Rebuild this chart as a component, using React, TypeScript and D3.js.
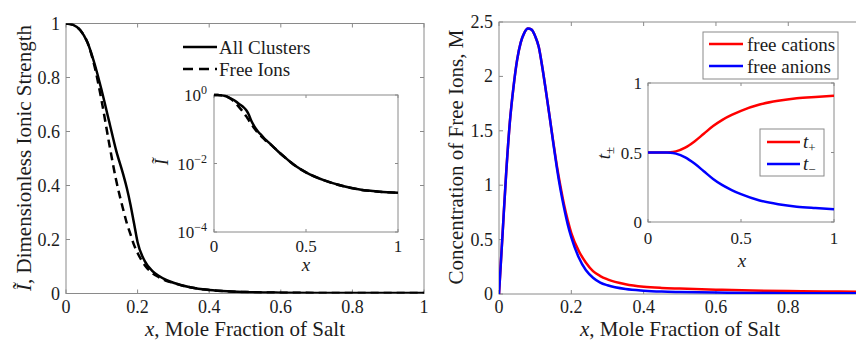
import React, { useEffect, useRef } from "react";
import * as d3 from "d3";

// left panel: dimensionless ionic strength vs mole fraction
const xIonic = [0, 0.02, 0.04, 0.06, 0.08, 0.1, 0.12, 0.14, 0.16, 0.17, 0.18, 0.19, 0.2, 0.22, 0.24, 0.26, 0.28, 0.3, 0.35, 0.4, 0.45, 0.5, 0.6, 0.7, 0.8, 0.9, 1];
const allClusters = [1, 0.995, 0.975, 0.93, 0.85, 0.75, 0.64, 0.53, 0.44, 0.39, 0.33, 0.26, 0.19, 0.12, 0.085, 0.065, 0.05, 0.04, 0.022, 0.013, 0.008, 0.0055, 0.0032, 0.0022, 0.0017, 0.0015, 0.0014];
const freeIons = [1, 0.995, 0.975, 0.93, 0.84, 0.71, 0.56, 0.42, 0.31, 0.26, 0.22, 0.18, 0.15, 0.105, 0.077, 0.06, 0.047, 0.039, 0.022, 0.013, 0.008, 0.0055, 0.0032, 0.0022, 0.0017, 0.0015, 0.0014];

// right panel: free ion concentration (M)
const xConc = [0, 0.01, 0.02, 0.03, 0.04, 0.05, 0.06, 0.07, 0.08, 0.09, 0.1, 0.11, 0.12, 0.13, 0.14, 0.15, 0.16, 0.17, 0.18, 0.19, 0.2, 0.22, 0.24, 0.26, 0.28, 0.3, 0.35, 0.4, 0.45, 0.5, 0.6, 0.7, 0.8, 0.9, 1];
const freeCations = [0, 0.56, 1.12, 1.58, 1.9, 2.15, 2.31, 2.4, 2.44, 2.43, 2.37, 2.27, 2.08, 1.86, 1.63, 1.4, 1.18, 0.99, 0.82, 0.68, 0.56, 0.4, 0.29, 0.21, 0.165, 0.135, 0.09, 0.067, 0.056, 0.05, 0.04, 0.032, 0.027, 0.023, 0.021];
const freeAnions = [0, 0.56, 1.12, 1.58, 1.9, 2.15, 2.31, 2.4, 2.44, 2.43, 2.37, 2.27, 2.08, 1.86, 1.63, 1.39, 1.16, 0.96, 0.79, 0.64, 0.52, 0.34, 0.22, 0.15, 0.105, 0.08, 0.045, 0.03, 0.022, 0.018, 0.013, 0.01, 0.008, 0.007, 0.006];

// right inset: transference numbers
const xTrans = [0, 0.05, 0.1, 0.12, 0.15, 0.2, 0.25, 0.3, 0.35, 0.4, 0.45, 0.5, 0.6, 0.7, 0.8, 0.9, 1];
const tPlus = [0.5, 0.5, 0.5, 0.501, 0.508, 0.535, 0.58, 0.635, 0.69, 0.735, 0.77, 0.8, 0.845, 0.872, 0.89, 0.9, 0.908];
const tMinus = [0.5, 0.5, 0.5, 0.499, 0.492, 0.465, 0.42, 0.365, 0.31, 0.265, 0.23, 0.2, 0.155, 0.128, 0.11, 0.1, 0.092];

const mainXTicks = [0, 0.2, 0.4, 0.6, 0.8, 1];
const ionicYTicks = [0, 0.2, 0.4, 0.6, 0.8, 1];
const concYTicks = [0, 0.5, 1, 1.5, 2, 2.5];
const insetXTicks = [0, 0.5, 1];
const insetLogTicks = [1, 1e-2, 1e-4];
const insetLogLabels = ["0", "\u22122", "\u22124"];
const transYTicks = [0, 0.5, 1];

const W = 856;
const FONT = "'Liberation Serif', 'Times New Roman', serif";
const AXIS = "#8a8a8a";
const INK = "#1c1c1c";

type Sel = d3.Selection<SVGGElement, unknown, null, undefined>;

function frame(g: Sel, x: any, y: any, xt: number[], yt: number[], tick: number) {
  const [x0, x1] = x.range();
  const [yb, yTop] = y.range();
  g.append("rect")
    .attr("x", x0).attr("y", yTop)
    .attr("width", x1 - x0).attr("height", yb - yTop)
    .attr("fill", "white").attr("stroke", AXIS).attr("stroke-width", 1);
  xt.forEach(v => {
    const px = x(v);
    g.append("line").attr("x1", px).attr("x2", px).attr("y1", yb).attr("y2", yb - tick).attr("stroke", AXIS);
    g.append("line").attr("x1", px).attr("x2", px).attr("y1", yTop).attr("y2", yTop + tick).attr("stroke", AXIS);
  });
  yt.forEach(v => {
    const py = y(v);
    g.append("line").attr("x1", x0).attr("x2", x0 + tick).attr("y1", py).attr("y2", py).attr("stroke", AXIS);
    g.append("line").attr("x1", x1).attr("x2", x1 - tick).attr("y1", py).attr("y2", py).attr("stroke", AXIS);
  });
}

function label(g: Sel, x: number, y: number, txt: string, size: number, anchor = "middle") {
  return g.append("text")
    .attr("x", x).attr("y", y)
    .attr("text-anchor", anchor)
    .attr("font-size", size)
    .attr("fill", INK)
    .text(txt);
}

function curve(g: Sel, xs: number[], ys: number[], x: any, y: any, color: string, dash?: string) {
  const line = d3.line<number>()
    .x((d, i) => x(xs[i]))
    .y(d => y(d))
    .curve(d3.curveMonotoneX);
  const p = g.append("path")
    .datum(ys)
    .attr("d", line)
    .attr("fill", "none")
    .attr("stroke", color)
    .attr("stroke-width", 2.5)
    .attr("stroke-linejoin", "round");
  if (dash) p.attr("stroke-dasharray", dash);
  return p;
}

export default function App() {
  const svgRef = useRef<SVGSVGElement>(null);

  useEffect(() => {
    if (!svgRef.current) return;
    const svg = d3.select(svgRef.current);
    svg.selectAll("*").remove();
    const root = svg.append("g").attr("font-family", FONT) as unknown as Sel;

    const defs = svg.append("defs");
    defs.append("clipPath").attr("id", "clipL").append("rect").attr("x", 66).attr("y", 23.5).attr("width", 358).attr("height", 270);
    defs.append("clipPath").attr("id", "clipR").append("rect").attr("x", 499).attr("y", 22).attr("width", 362).attr("height", 272);

    // ---------- left main ----------
    const xL = d3.scaleLinear().domain([0, 1]).range([66, 424]);
    const yL = d3.scaleLinear().domain([0, 1]).range([293.5, 23.5]);
    frame(root, xL, yL, mainXTicks, ionicYTicks, 4);
    const cl = root.append("g").attr("clip-path", "url(#clipL)") as unknown as Sel;
    curve(cl, xIonic, freeIons, xL, yL, "#000", "8,5");
    curve(cl, xIonic, allClusters, xL, yL, "#000");
    mainXTicks.forEach(v => label(root, xL(v), 313, String(v), 18));
    ionicYTicks.forEach(v => label(root, 60, yL(v) + 6, String(v), 18, "end"));

    const xlab = label(root, 245, 336, "", 21);
    xlab.append("tspan").attr("font-style", "italic").text("x");
    xlab.append("tspan").text(", Mole Fraction of Salt");
    const ylab = root.append("text")
      .attr("transform", "translate(31,158) rotate(-90)")
      .attr("text-anchor", "middle").attr("font-size", 21).attr("fill", INK);
    ylab.append("tspan").attr("font-style", "italic").text("\u0128");
    ylab.append("tspan").text(", Dimensionless Ionic Strength");

    // legend (no box)
    root.append("line").attr("x1", 183).attr("x2", 217).attr("y1", 47).attr("y2", 47).attr("stroke", "#000").attr("stroke-width", 2.5);
    root.append("line").attr("x1", 183).attr("x2", 217).attr("y1", 69).attr("y2", 69).attr("stroke", "#000").attr("stroke-width", 2.5).attr("stroke-dasharray", "10,6");
    label(root, 219, 53.5, "All Clusters", 19, "start");
    label(root, 219, 75.5, "Free Ions", 19, "start");

    // ---------- left inset (log) ----------
    const xI = d3.scaleLinear().domain([0, 1]).range([214, 398]);
    const yI = d3.scaleLog().domain([1e-4, 1]).range([232, 95]);
    frame(root, xI, yI, insetXTicks, insetLogTicks, 3);
    curve(root, xIonic, freeIons, xI, yI, "#000", "8,5");
    curve(root, xIonic, allClusters, xI, yI, "#000");
    insetXTicks.forEach(v => label(root, xI(v), 252, String(v), 17));
    insetLogTicks.forEach((v, i) => {
      const t = label(root, 207, yI(v) + 6, "", 17, "end");
      t.append("tspan").text("10");
      t.append("tspan").attr("dy", -7).attr("font-size", 12).text(insetLogLabels[i]);
    });
    label(root, 306, 271, "x", 19).attr("font-style", "italic");
    root.append("text")
      .attr("transform", "translate(168,162) rotate(-90)")
      .attr("text-anchor", "middle").attr("font-size", 19).attr("font-style", "italic").attr("fill", INK)
      .text("\u0128");

    // ---------- right main (its right edge falls outside the picture) ----------
    const xR = d3.scaleLinear().domain([0, 1]).range([499, 860.6]);
    const yR = d3.scaleLinear().domain([0, 2.5]).range([294, 22]);
    frame(root, xR, yR, mainXTicks, concYTicks, 4);
    const cr = root.append("g").attr("clip-path", "url(#clipR)") as unknown as Sel;
    curve(cr, xConc, freeCations, xR, yR, "#ff0000");
    curve(cr, xConc, freeAnions, xR, yR, "#0000ff");
    mainXTicks.filter(v => xR(v) + 6 < W).forEach(v => label(root, xR(v), 313, String(v), 18));
    concYTicks.forEach(v => label(root, 493, yR(v) + 6, String(v), 18, "end"));

    const xlab2 = label(root, 680, 336, "", 21);
    xlab2.append("tspan").attr("font-style", "italic").text("x");
    xlab2.append("tspan").text(", Mole Fraction of Salt");
    root.append("text")
      .attr("transform", "translate(463,157) rotate(-90)")
      .attr("text-anchor", "middle").attr("font-size", 21).attr("fill", INK)
      .text("Concentration of Free Ions, M");

    // legend (boxed)
    root.append("rect").attr("x", 703).attr("y", 32).attr("width", 135).attr("height", 47)
      .attr("fill", "white").attr("stroke", AXIS);
    root.append("line").attr("x1", 709).attr("x2", 743).attr("y1", 44).attr("y2", 44).attr("stroke", "#ff0000").attr("stroke-width", 2.5);
    root.append("line").attr("x1", 709).attr("x2", 743).attr("y1", 66).attr("y2", 66).attr("stroke", "#0000ff").attr("stroke-width", 2.5);
    label(root, 747, 50.5, "free cations", 19, "start");
    label(root, 747, 72.5, "free anions", 19, "start");

    // ---------- right inset ----------
    const xT = d3.scaleLinear().domain([0, 1]).range([648, 834]);
    const yT = d3.scaleLinear().domain([0, 1]).range([222, 83]);
    frame(root, xT, yT, insetXTicks, transYTicks, 3);
    curve(root, xTrans, tPlus, xT, yT, "#ff0000");
    curve(root, xTrans, tMinus, xT, yT, "#0000ff");
    insetXTicks.forEach(v => label(root, xT(v), 244, String(v), 17));
    transYTicks.forEach(v => label(root, 642, yT(v) + 6, String(v), 17, "end"));
    label(root, 742, 267, "x", 19).attr("font-style", "italic");
    const tl = root.append("text")
      .attr("transform", "translate(610,153) rotate(-90)")
      .attr("text-anchor", "middle").attr("font-size", 19).attr("fill", INK);
    tl.append("tspan").attr("font-style", "italic").text("t");
    tl.append("tspan").attr("dy", 4).attr("font-size", 13).text("\u00b1");

    root.append("rect").attr("x", 760).attr("y", 129).attr("width", 64).attr("height", 47)
      .attr("fill", "white").attr("stroke", AXIS);
    root.append("line").attr("x1", 767).attr("x2", 800).attr("y1", 142).attr("y2", 142).attr("stroke", "#ff0000").attr("stroke-width", 2.5);
    root.append("line").attr("x1", 767).attr("x2", 800).attr("y1", 164).attr("y2", 164).attr("stroke", "#0000ff").attr("stroke-width", 2.5);
    [["+", 148], ["\u2212", 170]].forEach(([s, yy]) => {
      const t = label(root, 803, yy as number, "", 19, "start");
      t.append("tspan").attr("font-style", "italic").text("t");
      t.append("tspan").attr("dy", 4).attr("font-size", 13).text(s as string);
    });
  }, []);

  return (
    <svg
      ref={svgRef}
      width={W}
      height={341}
      style={{ position: "absolute", left: 0, top: 0, background: "white" }}
    />
  );
}
